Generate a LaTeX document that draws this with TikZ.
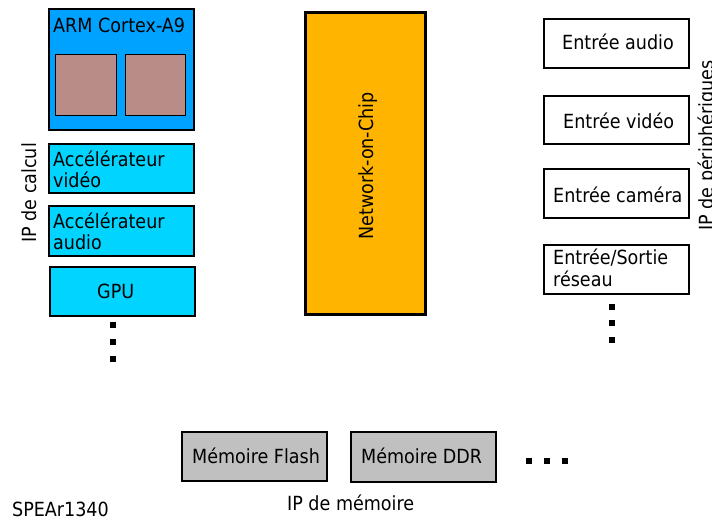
\documentclass[tikz,border=0pt]{standalone}
\usepackage{fontspec}
\setmainfont{DejaVu Sans Condensed}
\definecolor{armblue}{RGB}{0,162,255}
\definecolor{acccyan}{RGB}{0,212,255}
\definecolor{nocorange}{RGB}{255,181,0}
\definecolor{corebrown}{RGB}{186,140,136}
\definecolor{memgray}{RGB}{192,192,192}
\tikzset{
  box/.style={draw=black, line width=1.3pt, inner sep=0pt, rectangle},
  txt/.style={inner sep=0pt, anchor=base west, font=\fontsize{19.5}{21}\selectfont},
  rtxt/.style={inner sep=0pt, anchor=base west, rotate=90, font=\fontsize{19.5}{21}\selectfont},
  dot/.style={fill=black, inner sep=0pt, minimum size=6pt, rectangle},
}
\begin{document}
\begin{tikzpicture}[x=1pt,y=-1pt]
\useasboundingbox (0,0) rectangle (712,519);
% compute IP
\node[box, fill=armblue, minimum width=145pt, minimum height=121pt] (arm) at (121.5,69.5) {};
\node[box, fill=corebrown, line width=1pt, minimum width=61pt, minimum height=60pt] (core1) at (85.5,85) {};
\node[box, fill=corebrown, line width=1pt, minimum width=60pt, minimum height=60pt] (core2) at (155,85) {};
\node[txt] (armt) at (53,33) {ARM Cortex-A9};
\node[box, fill=acccyan, minimum width=145pt, minimum height=49pt] (accv) at (121.5,168.5) {};
\node[txt] (accvt) at (53,166) {Accélérateur};
\node[txt] (accvt2) at (53,187) {vidéo};
\node[box, fill=acccyan, minimum width=145pt, minimum height=50pt] (acca) at (121.5,231) {};
\node[txt] (accat) at (53,228) {Accélérateur};
\node[txt] (accat2) at (53,249) {audio};
\node[box, fill=acccyan, minimum width=145pt, minimum height=49pt] (gpu) at (122.5,291.5) {};
\node[inner sep=0pt, anchor=base, font=\fontsize{19.5}{21}\selectfont] (gput) at (115.7,298) {GPU};
\node[dot] (cd1) at (113,325) {};
\node[dot] (cd2) at (113,342) {};
\node[dot] (cd3) at (113,359) {};
\node[rtxt] (ipcalc) at (36,243) {IP de calcul};
% NoC
\node[box, fill=nocorange, line width=3pt, minimum width=120pt, minimum height=301pt] (noc) at (365,163.5) {};
\node[rtxt] (noct) at (373,240) {Network-on-Chip};
% peripherals
\node[box, fill=white, minimum width=145pt, minimum height=49pt] (pa) at (616.5,43.5) {};
\node[txt] (pat) at (562,50) {Entrée audio};
\node[box, fill=white, minimum width=145pt, minimum height=48pt] (pv) at (616.5,120) {};
\node[txt] (pvt) at (563,128) {Entrée vidéo};
\node[box, fill=white, minimum width=145pt, minimum height=49pt] (pc) at (616.5,193.5) {};
\node[txt] (pct) at (553,202) {Entrée caméra};
\node[box, fill=white, minimum width=145pt, minimum height=49pt] (pn) at (616.5,269.5) {};
\node[txt] (pnt) at (553,264) {Entrée/Sortie};
\node[txt] (pnt2) at (553,286) {réseau};
\node[dot] (pd1) at (612,307) {};
\node[dot] (pd2) at (612,323) {};
\node[dot] (pd3) at (612,340) {};
\node[rtxt] (ipper) at (713,231) {IP de périphériques};
% memory
\node[box, fill=memgray, minimum width=145pt, minimum height=49pt] (flash) at (254.5,456.5) {};
\node[txt] (flasht) at (192,463) {Mémoire Flash};
\node[box, fill=memgray, minimum width=145pt, minimum height=50pt] (ddr) at (423.5,457) {};
\node[txt] (ddrt) at (361,463) {Mémoire DDR};
\node[dot] (md1) at (529,461) {};
\node[dot] (md2) at (547,461) {};
\node[dot] (md3) at (565,461) {};
\node[txt] (ipmem) at (287,510) {IP de mémoire};
\node[txt] (spear) at (12,516) {SPEAr1340};
\end{tikzpicture}
\end{document}
